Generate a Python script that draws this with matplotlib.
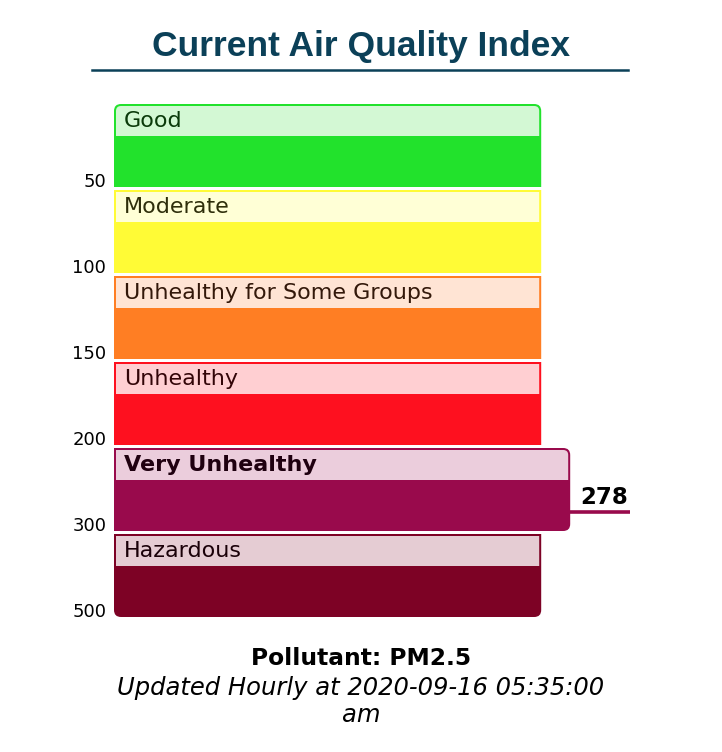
import numpy as np
import matplotlib
matplotlib.use("Agg")
import matplotlib.pyplot as plt
from matplotlib.path import Path
from matplotlib.patches import PathPatch
from matplotlib.lines import Line2D

# --------------------------------
# Data
# --------------------------------
categories = ["Good", "Moderate", "Unhealthy for Some Groups",
              "Unhealthy", "Very Unhealthy", "Hazardous"]
upper_limits = [50, 100, 150, 200, 300, 500]
body_colors = ["#22e22c", "#fffb36", "#ff7e23", "#fe101f", "#990a4c", "#7d0225"]
header_colors = ["#d3f8d4", "#ffffd6", "#ffe4d4", "#ffcfd2", "#ebcddc", "#e5ccd3"]
text_colors = ["#0a3a0a", "#2e2e0a", "#33180a", "#330508", "#1f0010", "#1a0008"]
current_aqi = 278
pollutant = "PM2.5"
updated = "2020-09-16 05:35:00 am"

# --------------------------------
# Figure / axes
# --------------------------------
W, H = 722, 752
fig = plt.figure(figsize=(W / 100, H / 100), dpi=100)
ax = fig.add_axes([114 / W, 1 - 617 / H, 534 / W, 516 / H])
ax.set_xlim(0, 1.25)
ax.set_ylim(6, 0)
for s in ax.spines.values():
    s.set_visible(False)
ax.set_xticks([])

kx = 1.25 / 534   # data units per pixel (x)
ky = 6 / 516      # data units per pixel (y)


def box_path(x0, x1, y0, y1, rtl=0, rtr=0, rbr=0, rbl=0):
    # y0 is the top edge (inverted axis), radii in pixels
    verts = [
        (x0 + rtl * kx, y0), (x1 - rtr * kx, y0),
        (x1, y0), (x1, y0 + rtr * ky),
        (x1, y1 - rbr * ky),
        (x1, y1), (x1 - rbr * kx, y1),
        (x0 + rbl * kx, y1),
        (x0, y1), (x0, y1 - rbl * ky),
        (x0, y0 + rtl * ky),
        (x0, y0), (x0 + rtl * kx, y0),
        (x0 + rtl * kx, y0),
    ]
    codes = [Path.MOVETO, Path.LINETO,
             Path.CURVE3, Path.CURVE3,
             Path.LINETO,
             Path.CURVE3, Path.CURVE3,
             Path.LINETO,
             Path.CURVE3, Path.CURVE3,
             Path.LINETO,
             Path.CURVE3, Path.CURVE3,
             Path.CLOSEPOLY]
    return Path(verts, codes)


edges = [0] + upper_limits
positions = np.arange(len(edges))
current_band = int(np.searchsorted(upper_limits, current_aqi))
marker_y = np.interp(current_aqi, edges, positions)

gap = 3 * ky
radius = 7
border = 2
header_h = 30
extend = 29 * kx

for i, name in enumerate(categories):
    top = i + gap
    bottom = i + 1
    right = 1.0 + (extend if i == current_band else 0)
    r = [0, 0, 0, 0]  # tl, tr, br, bl
    if i == 0:
        r[0] = r[1] = radius
    if i == len(categories) - 1:
        r[2] = r[3] = radius
    if i == current_band:
        r[1] = r[2] = radius
    ax.add_patch(PathPatch(box_path(0, right, top, bottom, *r),
                           facecolor=body_colors[i], edgecolor="none"))
    hr = [max(v - border, 0) for v in r]
    ax.add_patch(PathPatch(box_path(border * kx, right - border * kx,
                                    top + border * ky,
                                    top + (border + header_h) * ky,
                                    hr[0], hr[1], 0, 0),
                           facecolor=header_colors[i], edgecolor="none"))
    ax.text(10 * kx, top + (border + header_h / 2) * ky, name,
            fontsize=16, color=text_colors[i], va="center", ha="left",
            fontweight="bold" if i == current_band else "normal",
            family="DejaVu Sans")

# y tick labels at the bottom of each band
ax.set_yticks(positions[1:])
ax.set_yticklabels([str(v) for v in upper_limits], fontsize=13)
ax.tick_params(axis="y", length=0, pad=5.5)
plt.setp(ax.get_yticklabels(), va="baseline")

# current value marker
x_end = 1.208
ax.plot([1.0 + extend, x_end], [marker_y, marker_y],
        color=body_colors[current_band], linewidth=2.6,
        solid_capstyle="butt")
ax.text(1.204, marker_y - 8 * ky, str(current_aqi), fontsize=16.5,
        fontweight="bold", ha="right", va="baseline", color="black")

# --------------------------------
# Title and footer
# --------------------------------
title_color = "#0b4058"
fig.text(0.5, 1 - 56 / H, "Current Air Quality Index", ha="center",
         va="baseline", fontsize=25.5, fontweight="bold",
         family="Liberation Sans", color=title_color)
fig.add_artist(Line2D([92 / W, 628 / W], [1 - 69.5 / H, 1 - 69.5 / H],
                      color=title_color, linewidth=1.8))

fig.text(0.5, 1 - 665 / H, "Pollutant: " + pollutant, ha="center",
         va="baseline", fontsize=16.8, fontweight="bold")
date_part, ampm = updated.rsplit(" ", 1)
fig.text(0.5, 1 - 695 / H, "Updated Hourly at " + date_part, ha="center",
         va="baseline", fontsize=17.5, style="italic")
fig.text(0.5, 1 - 722 / H, ampm, ha="center",
         va="baseline", fontsize=17.5, style="italic")

fig.savefig("out.png", dpi=100, facecolor="white")
